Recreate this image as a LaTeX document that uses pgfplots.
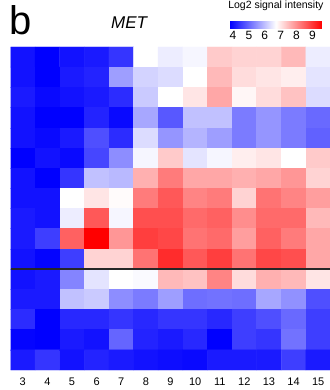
\documentclass[border=0pt]{standalone}
\usepackage{pgfplots}
\pgfplotsset{compat=1.18}
\usepackage{fontspec}
\setmainfont{Liberation Sans}
\pgfkeys{/pgf/number format/assume math mode=true}
\newcommand{\cb}[1]{\fontsize{12}{14}\selectfont #1}
\begin{document}
\begin{tikzpicture}
\begin{axis}[
  at={(10.5pt,20pt)}, anchor=south west,
  scale only axis, width=320pt, height=323pt,
  xmin=2.5, xmax=15.5, ymin=0.5, ymax=16.5,
  y dir=reverse,
  axis line style={draw=none},
  major tick length=0pt,
  xtick={3,...,15},
  ytick=\empty,
  xticklabel style={font=\fontsize{11}{13}\selectfont, yshift=-4.5pt},
  colormap={bwr}{rgb255=(0,0,255) rgb255=(255,255,255) rgb255=(255,0,0)},
  point meta min=3.8, point meta max=9.6,
  colorbar horizontal,
  colorbar style={
    at={(0.6856,1.056)}, anchor=south west,
    scale only axis, width=92pt, height=7pt,
    axis line style={draw=none},
    major tick length=0pt,
    xtick={4,5,6,7,8,9},
    xticklabels={\cb{4},\cb{5},\cb{6},\cb{7},\cb{8},\cb{9}},
    xticklabel style={yshift=1.5pt},
    title={\fontsize{10.5}{12}\selectfont Log2 signal intensity},
    title style={at={(0.5,1)}, anchor=base, yshift=7.5pt, inner sep=0pt},
  },
]
\addplot[matrix plot*, mesh/cols=13, point meta=explicit] table[meta=c] {
x y c
3 1 4.0
4 1 3.8
5 1 4.0
6 1 4.1
7 1 4.4
8 1 6.7
9 1 6.5
10 1 6.6
11 1 7.3
12 1 7.2
13 1 7.2
14 1 7.5
15 1 6.5
3 2 4.0
4 2 3.8
5 2 4.1
6 2 4.2
7 2 5.6
8 2 6.2
9 2 6.3
10 2 6.7
11 2 7.5
12 2 7.1
13 2 7.0
14 2 6.9
15 2 6.4
3 3 4.1
4 3 3.9
5 3 4.0
6 3 4.1
7 3 4.3
8 3 6.1
9 3 6.7
10 3 7.0
11 3 7.7
12 3 6.8
13 3 7.1
14 3 7.4
15 3 6.3
3 4 4.0
4 4 3.8
5 4 3.8
6 4 4.2
7 4 3.9
8 4 5.7
9 4 4.8
10 4 6.0
11 4 6.0
12 4 5.2
13 4 5.5
14 4 5.2
15 4 5.0
3 5 4.0
4 5 3.9
5 5 4.1
6 5 4.7
7 5 4.3
8 5 6.3
9 5 5.5
10 5 5.85
11 5 5.6
12 5 5.2
13 5 5.5
14 5 5.2
15 5 4.9
3 6 3.8
4 6 4.0
5 6 3.9
6 6 4.6
7 6 5.4
8 6 6.6
9 6 7.3
10 6 6.4
11 6 6.6
12 6 6.9
13 6 7.0
14 6 6.7
15 6 7.3
3 7 4.0
4 7 3.8
5 7 4.4
6 7 6.0
7 7 5.9
8 7 7.6
9 7 8.2
10 7 7.7
11 7 7.7
12 7 7.6
13 7 7.7
14 7 7.9
15 7 7.2
3 8 4.0
4 8 4.0
5 8 6.7
6 8 7.0
7 8 6.75
8 8 8.2
9 8 8.6
10 8 8.1
11 8 8.2
12 8 7.2
13 8 8.3
14 8 8.1
15 8 7.8
3 9 4.1
4 9 4.0
5 9 6.5
6 9 8.6
7 9 6.6
8 9 8.7
9 9 8.7
10 9 8.4
11 9 8.5
12 9 8.0
13 9 8.4
14 9 8.4
15 9 7.5
3 10 4.1
4 10 4.5
5 10 8.5
6 10 9.6
7 10 7.9
8 10 8.9
9 10 8.8
10 10 8.3
11 10 8.4
12 10 7.8
13 10 8.5
14 10 8.2
15 10 7.7
3 11 4.0
4 11 3.85
5 11 4.5
6 11 7.2
7 11 7.2
8 11 8.3
9 11 9.1
10 11 8.6
11 11 8.9
12 11 8.3
13 11 8.8
14 11 8.7
15 11 7.7
3 12 4.0
4 12 4.1
5 12 5.3
6 12 6.4
7 12 6.7
8 12 6.65
9 12 7.5
10 12 7.4
11 12 8.1
12 12 7.1
13 12 7.6
14 12 7.5
15 12 7.0
3 13 4.1
4 13 4.1
5 13 6.0
6 13 6.1
7 13 5.4
8 13 5.2
9 13 5.6
10 13 5.05
11 13 5.1
12 13 5.05
13 13 5.7
14 13 5.45
15 13 4.7
3 14 4.3
4 14 3.8
5 14 4.25
6 14 4.25
7 14 4.4
8 14 4.25
9 14 4.4
10 14 4.4
11 14 4.25
12 14 4.5
13 14 4.7
14 14 5.0
15 14 4.5
3 15 3.85
4 15 3.8
5 15 4.1
6 15 4.0
7 15 4.95
8 15 4.2
9 15 4.1
10 15 4.25
11 15 3.8
12 15 4.5
13 15 4.4
14 15 5.1
15 15 4.5
3 16 4.1
4 16 4.4
5 16 4.0
6 16 4.2
7 16 4.1
8 16 4.0
9 16 3.95
10 16 3.9
11 16 4.1
12 16 4.1
13 16 4.1
14 16 4.5
15 16 4.1
};
\addplot[black!85, line width=1.4pt] coordinates {(2.5,11.5) (15.5,11.5)};
\end{axis}
\node[anchor=base west, inner sep=0pt, font=\fontsize{40}{44}\selectfont] at (9pt,355pt) {b};
\node[anchor=base west, inner sep=0pt, font=\fontsize{17}{19}\selectfont\itshape] at (111pt,361.5pt) {MET};
\pgfresetboundingbox
\useasboundingbox (0pt,0pt) rectangle (329pt,390pt);
\end{tikzpicture}
\end{document}
